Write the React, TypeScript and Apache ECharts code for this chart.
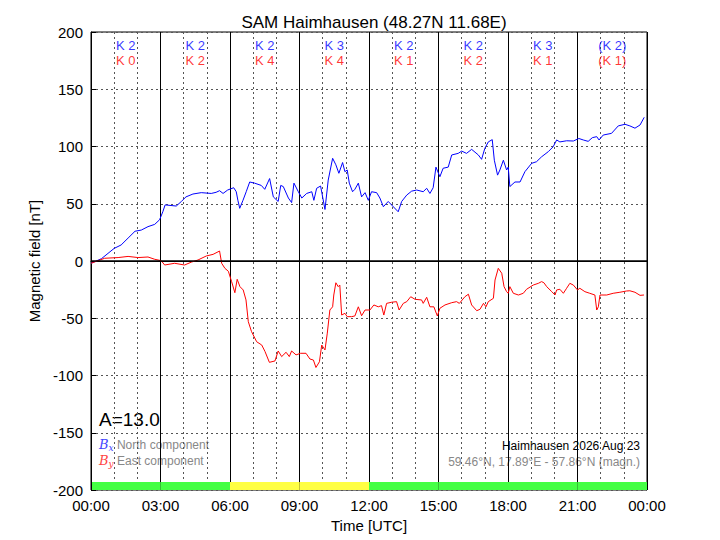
import React, { useEffect, useRef } from "react";
import * as echarts from "echarts";

const bxHours = [0, 0.45, 1.0, 1.3, 1.6, 1.9, 2.17, 2.46, 2.75, 2.96, 3.1, 3.2, 3.68, 3.9, 4.1, 4.4, 4.76, 5.19, 5.4, 5.55, 5.7, 5.9, 6.16, 6.27, 6.34, 6.42, 6.56, 6.7, 6.85, 7.06, 7.35, 7.5, 7.71, 7.87, 8.08, 8.19, 8.3, 8.52, 8.66, 8.76, 8.95, 9.1, 9.31, 9.53, 9.62, 9.74, 9.91, 10.1, 10.24, 10.43, 10.57, 10.7, 10.86, 10.96, 11.06, 11.15, 11.29, 11.39, 11.54, 11.68, 11.83, 11.97, 12.11, 12.33, 12.47, 12.62, 12.83, 13.02, 13.26, 13.41, 13.63, 13.84, 14.06, 14.34, 14.49, 14.63, 14.77, 14.89, 15.06, 15.2, 15.42, 15.57, 15.85, 16.0, 16.21, 16.43, 16.72, 16.86, 17.0, 17.15, 17.32, 17.41, 17.55, 17.65, 17.8, 17.94, 18.01, 18.08, 18.3, 18.52, 18.73, 19.02, 19.23, 19.45, 19.74, 19.95, 20.1, 20.24, 20.53, 20.82, 21.06, 21.25, 21.46, 21.64, 21.83, 21.93, 22.11, 22.47, 22.76, 23.05, 23.26, 23.48, 23.7, 23.88];
const bxValues = [-2, 2, 11, 14, 20, 26, 27, 30, 32, 36, 43, 49, 48, 52, 56, 58.5, 59.7, 59, 60, 61.4, 59, 62, 64, 60.5, 53, 46, 53, 60.5, 69, 68, 66, 62.6, 72, 56, 52, 66, 65, 55, 51, 68, 60.5, 55, 59, 60.5, 53, 63.5, 65.5, 45, 70.7, 89.7, 84, 76.6, 86, 78, 79.5, 68, 60.5, 62.6, 68, 56, 59.7, 53, 60.5, 59.7, 55, 47.4, 52, 48, 43, 52, 57.6, 61, 62, 60.5, 63.5, 59, 64, 82, 73.6, 81, 82, 92.6, 94, 96, 94, 97.5, 92.6, 88.8, 98.4, 104, 106, 88, 75, 79.5, 88, 79.5, 82, 65, 69, 69, 78, 85.3, 86.7, 91, 95.5, 99.8, 105.7, 104, 105, 104.8, 107, 105.7, 104.5, 107.7, 108.6, 105.7, 110, 111.5, 118, 119.4, 118, 116, 118.8, 125.5];

const byHours = [0, 0.59, 1.17, 1.6, 2.03, 2.46, 2.75, 3.03, 3.18, 3.61, 4.04, 4.33, 4.62, 4.98, 5.27, 5.55, 5.64, 5.78, 5.93, 6.07, 6.21, 6.31, 6.43, 6.57, 6.69, 6.79, 6.93, 7.15, 7.37, 7.51, 7.7, 7.94, 8.08, 8.23, 8.42, 8.56, 8.66, 8.85, 9.05, 9.28, 9.45, 9.6, 9.71, 9.86, 9.96, 10.1, 10.2, 10.31, 10.43, 10.48, 10.57, 10.67, 10.74, 10.82, 10.96, 11.06, 11.25, 11.39, 11.54, 11.68, 11.83, 12.04, 12.21, 12.4, 12.54, 12.64, 12.76, 12.98, 13.19, 13.3, 13.48, 13.63, 13.8, 13.99, 14.27, 14.34, 14.49, 14.63, 14.8, 14.95, 15.06, 15.28, 15.57, 15.78, 15.9, 16.14, 16.29, 16.43, 16.65, 16.79, 16.94, 17.05, 17.15, 17.37, 17.44, 17.58, 17.73, 17.83, 17.94, 18.01, 18.08, 18.23, 18.45, 18.66, 18.8, 19.09, 19.31, 19.45, 19.55, 19.67, 19.89, 20.03, 20.1, 20.24, 20.39, 20.53, 20.67, 20.82, 21.0, 21.1, 21.32, 21.53, 21.75, 21.83, 21.9, 21.97, 22.26, 22.54, 22.83, 23.12, 23.26, 23.48, 23.7, 23.87];
const byValues = [-2, 2.4, 3, 4, 3, 3.5, 1.5, 0.3, -3.5, -2, -3.5, -1, 0.9, 4.4, 5.8, 8.7, -2, -6.4, -9, -18, -27.7, -16, -22.4, -25.3, -34, -53, -61.7, -70.5, -73.4, -79, -88.5, -87.3, -78.6, -83.5, -79.7, -83.5, -78.6, -82, -80.6, -80.6, -85.6, -86.5, -93, -88, -73.4, -77.7, -63, -42.8, -40, -29.7, -19, -22.4, -21, -47.2, -45.7, -48.6, -48.6, -48, -40, -47.8, -42.8, -42.8, -38.4, -40, -39, -47.2, -37, -36, -35.5, -42.8, -37, -35.5, -31.2, -33.5, -34, -37, -31.7, -40, -40, -48, -41.3, -38.4, -36.4, -35.5, -37, -31.2, -29, -38.4, -43.4, -42.2, -37, -40, -35.5, -32.6, -16.6, -6.4, -10.7, -22.4, -26.8, -28.2, -22.4, -28.2, -29.7, -28.2, -24.7, -21, -19.5, -18, -19, -22.4, -26.8, -29.7, -25.3, -24.7, -28.2, -23.8, -19.5, -21, -25.3, -23.8, -26.8, -28.2, -29.7, -42.8, -40, -29.7, -29.7, -28.2, -27.3, -26.2, -26, -27.3, -30, -29.7];

const xTickLabels = ["00:00", "03:00", "06:00", "09:00", "12:00", "15:00", "18:00", "21:00", "00:00"];
const kCenters = [1.5, 4.5, 7.5, 10.5, 13.5, 16.5, 19.5, 22.5];
const kNorth = ["K 2", "K 2", "K 2", "K 3", "K 2", "K 2", "K 3", "(K 2)"];
const kEast = ["K 0", "K 2", "K 4", "K 4", "K 1", "K 2", "K 1", "(K 1)"];
const bandColors = ["#44ff44", "#44ff44", "#ffff44", "#ffff44", "#44ff44", "#44ff44", "#44ff44", "#44ff44"];

const FONT = "Liberation Sans";

export default function App() {
  const ref = useRef<HTMLDivElement>(null);
  useEffect(() => {
    if (!ref.current) return;
    const chart = echarts.init(ref.current, null, { renderer: "svg" });
    const bx = bxHours.map((h, i) => [h, bxValues[i]]);
    const by = byHours.map((h, i) => [h, byValues[i]]);
    chart.setOption({
      animation: false,
      backgroundColor: "#ffffff",
      textStyle: { fontFamily: FONT },
      title: {
        text: "SAM Haimhausen (48.27N 11.68E)",
        left: 369,
        top: 9,
        textAlign: "center",
        textStyle: { fontFamily: FONT, fontSize: 17, fontWeight: "normal", color: "#000" },
      },
      grid: { left: 91, right: 73, top: 32, bottom: 50, show: true, borderColor: "#000", borderWidth: 1, backgroundColor: "transparent" },
      xAxis: {
        type: "value",
        min: 0,
        max: 24,
        interval: 3,
        z: 1,
        name: "Time [UTC]",
        nameLocation: "middle",
        nameGap: 27,
        nameTextStyle: { fontFamily: FONT, fontSize: 15, color: "#000" },
        axisLine: { show: true, lineStyle: { color: "#000", width: 1 } },
        axisTick: { show: true, inside: true, length: 5, lineStyle: { color: "#000" } },
        axisLabel: { fontFamily: FONT, fontSize: 15, color: "#000", margin: 8, formatter: (v: number) => xTickLabels[Math.round(v / 3)] },
        splitLine: { show: true, lineStyle: { color: "#000", width: 1, type: "solid" } },
        minorTick: { show: false, splitNumber: 3 },
        minorSplitLine: { show: true, lineStyle: { color: "#555", width: 1, type: [2, 3] } },
      },
      yAxis: {
        type: "value",
        min: -200,
        max: 200,
        interval: 50,
        z: 1,
        name: "Magnetic field [nT]",
        nameLocation: "middle",
        nameGap: 47,
        nameTextStyle: { fontFamily: FONT, fontSize: 15, color: "#000" },
        axisLine: { show: true, lineStyle: { color: "#000", width: 1 } },
        axisTick: { show: true, inside: true, length: 5, lineStyle: { color: "#000" } },
        axisLabel: { fontFamily: FONT, fontSize: 15, color: "#000", margin: 8 },
        splitLine: { show: true, lineStyle: { color: "#555", width: 1, type: [2, 3] } },
      },
      series: [
        {
          type: "line",
          z: 0,
          data: [],
          silent: true,
          markArea: {
            silent: true,
            data: bandColors.map((c, i) => [
              { xAxis: i * 3, yAxis: -193, itemStyle: { color: c, opacity: 1 } },
              { xAxis: (i + 1) * 3, yAxis: -200 },
            ]),
          },
        },
        {
          name: "Bx",
          type: "line",
          data: bx,
          showSymbol: false,
          symbol: "none",
          lineStyle: { color: "#0000ff", width: 1 },
          z: 3,
          markLine: {
            silent: true,
            symbol: "none",
            label: { show: false },
            lineStyle: { color: "#000", width: 1.5, type: "solid" },
            data: [{ yAxis: 0 }],
          },
        },
        {
          name: "By",
          type: "line",
          data: by,
          showSymbol: false,
          symbol: "none",
          lineStyle: { color: "#ff0000", width: 1 },
          z: 3,
        },
        {
          type: "scatter",
          symbolSize: 0,
          silent: true,
          z: 4,
          data: kCenters.map((h, i) => ({ value: [h, 188.6], name: kNorth[i] })),
          label: { show: true, position: "inside", formatter: (p: any) => p.name, color: "#0000ff", fontFamily: FONT, fontSize: 13 },
        },
        {
          type: "scatter",
          symbolSize: 0,
          silent: true,
          z: 4,
          data: kCenters.map((h, i) => ({ value: [h, 175.5], name: kEast[i] })),
          label: { show: true, position: "inside", formatter: (p: any) => p.name, color: "#ff0000", fontFamily: FONT, fontSize: 13 },
        },
      ],
      graphic: [
        {
          type: "text",
          left: 99,
          top: 410,
          style: { text: "A=13.0", fontFamily: FONT, fontSize: 19, fill: "#000" },
        },
        {
          type: "text",
          left: 99,
          top: 438,
          style: {
            text: "{b|B}{s|x} {t|North component}",
            rich: {
              b: { fill: "#4444ff", fontStyle: "italic", fontFamily: "DejaVu Serif", fontSize: 13 },
              s: { fill: "#4444ff", fontStyle: "italic", fontFamily: "DejaVu Serif", fontSize: 9, padding: [7, 0, 0, 0] },
              t: { fill: "#888888", fontFamily: FONT, fontSize: 12 },
            },
          },
        },
        {
          type: "text",
          left: 99,
          top: 454,
          style: {
            text: "{b|B}{s|y} {t|East component}",
            rich: {
              b: { fill: "#ff4444", fontStyle: "italic", fontFamily: "DejaVu Serif", fontSize: 13 },
              s: { fill: "#ff4444", fontStyle: "italic", fontFamily: "DejaVu Serif", fontSize: 9, padding: [7, 0, 0, 0] },
              t: { fill: "#888888", fontFamily: FONT, fontSize: 12 },
            },
          },
        },
        {
          type: "text",
          right: 80,
          top: 440,
          style: { text: "Haimhausen 2026 Aug 23", fontFamily: FONT, fontSize: 12, fill: "#000", textAlign: "right" },
        },
        {
          type: "text",
          right: 80,
          top: 456,
          style: { text: "59.46°N, 17.89°E - 57.86°N (magn.)", fontFamily: FONT, fontSize: 12, fill: "#888888", textAlign: "right" },
        },
      ],
    });
    return () => chart.dispose();
  }, []);
  return <div ref={ref} style={{ position: "absolute", left: 0, top: 0, width: 720, height: 540 }} />;
}
